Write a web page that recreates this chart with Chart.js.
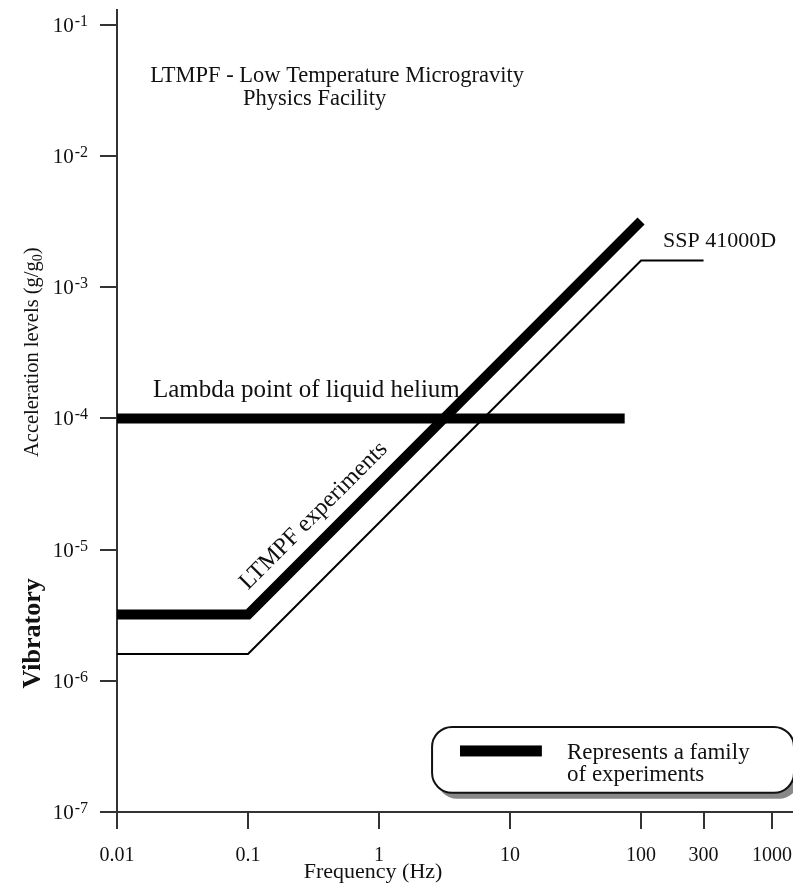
<!DOCTYPE html>
<html>
<head>
<meta charset="utf-8">
<script src="https://cdn.jsdelivr.net/npm/chart.js@4.4.0/dist/chart.umd.min.js"></script>
<style>
  html, body { margin: 0; padding: 0; background: #fff; }
  #wrap { width: 793px; height: 884px; }
</style>
</head>
<body>
<div id="wrap"><canvas id="accel-chart"></canvas></div>
<script>
// Frequency (Hz) vs acceleration level (g/g0)
var ltmpfFreq = [0.01, 0.1, 100];
var ltmpfAccel = [3.2e-6, 3.2e-6, 3.2e-3];

var sspFreq = [0.01, 0.1, 100, 300];
var sspAccel = [1.6e-6, 1.6e-6, 1.6e-3, 1.6e-3];

var lambdaFreq = [0.01, 75];
var lambdaAccel = [1e-4, 1e-4];

var xTicks = [0.01, 0.1, 1, 10, 100, 300, 1000];
var xTickLabels = ['0.01', '0.1', '1', '10', '100', '300', '1000'];
var yTicks = [1e-7, 1e-6, 1e-5, 1e-4, 1e-3, 1e-2, 1e-1];
var yTickExps = ['-7', '-6', '-5', '-4', '-3', '-2', '-1'];

var serif = '"Liberation Serif", serif';
var axisColor = '#333';
var inkColor = '#111';

function toPoints(xs, ys) {
  return xs.map(function (x, i) { return { x: x, y: ys[i] }; });
}

function roundRect(ctx, x, y, w, h, r) {
  ctx.beginPath();
  ctx.moveTo(x + r, y);
  ctx.arcTo(x + w, y, x + w, y + h, r);
  ctx.arcTo(x + w, y + h, x, y + h, r);
  ctx.arcTo(x, y + h, x, y, r);
  ctx.arcTo(x, y, x + w, y, r);
  ctx.closePath();
}

// text, y tick labels with superscripts, legend box
var annotations = {
  id: 'annotations',
  afterDraw: function (chart) {
    var ctx = chart.ctx;
    var xs = chart.scales.x, ys = chart.scales.y;
    var area = chart.chartArea;
    function px(v) { return xs.getPixelForValue(v); }
    function py(v) { return ys.getPixelForValue(v); }

    ctx.save();
    ctx.fillStyle = inkColor;
    ctx.textBaseline = 'alphabetic';

    // y tick labels: 10 with exponent
    yTicks.forEach(function (v, i) {
      var y = py(v);
      var right = area.left - 29;
      ctx.textAlign = 'right';
      ctx.font = '16px ' + serif;
      var w = ctx.measureText(yTickExps[i]).width;
      ctx.fillText(yTickExps[i], right, y + 1);
      ctx.font = '21px ' + serif;
      ctx.fillText('10', right - w - 1, y + 7);
    });

    // axis titles
    ctx.textAlign = 'center';
    ctx.font = '22px ' + serif;
    ctx.fillText('Frequency (Hz)', px(0.9), 878);

    ctx.save();
    ctx.translate(38, py(3.2e-4));
    ctx.rotate(-Math.PI / 2);
    ctx.textAlign = 'left';
    var part1 = 'Acceleration levels (g/g';
    ctx.font = '20.5px ' + serif;
    var w1 = ctx.measureText(part1).width;
    var w3 = ctx.measureText(')').width;
    ctx.font = '14px ' + serif;
    var w2 = ctx.measureText('0').width;
    var x0 = -(w1 + w2 + w3) / 2;
    ctx.font = '20.5px ' + serif;
    ctx.fillText(part1, x0, 0);
    ctx.fillText(')', x0 + w1 + w2, 0);
    ctx.font = '14px ' + serif;
    ctx.fillText('0', x0 + w1, 4);
    ctx.restore();

    ctx.save();
    ctx.translate(40, py(2.3e-6));
    ctx.rotate(-Math.PI / 2);
    ctx.textAlign = 'center';
    ctx.font = 'bold 26px ' + serif;
    ctx.fillText('Vibratory', 0, 0);
    ctx.restore();

    // labels inside the plot
    ctx.textAlign = 'left';
    ctx.font = '22.5px ' + serif;
    ctx.fillText('LTMPF - Low Temperature Microgravity', px(0.0179), py(0.0367));
    ctx.fillText('Physics Facility', px(0.0916), py(0.0245));
    ctx.font = '22px ' + serif;
    ctx.fillText('SSP 41000D', px(147), py(2.03e-3));
    ctx.font = '25px ' + serif;
    ctx.fillText('Lambda point of liquid helium', px(0.0188), py(1.46e-4));

    // label along the LTMPF line
    var p1 = { x: px(ltmpfFreq[1]), y: py(ltmpfAccel[1]) };
    var p2 = { x: px(ltmpfFreq[2]), y: py(ltmpfAccel[2]) };
    var a = Math.atan2(p2.y - p1.y, p2.x - p1.x);
    var along = 17, off = 17;
    var sx = p1.x + Math.cos(a) * along + Math.sin(a) * off;
    var sy = p1.y + Math.sin(a) * along - Math.cos(a) * off;
    ctx.save();
    ctx.translate(sx, sy);
    ctx.rotate(a);
    ctx.font = '24px ' + serif;
    ctx.fillText('LTMPF experiments', 0, 0);
    ctx.restore();

    // legend box
    var bx = px(2.54), by = py(4.45e-7);
    var bw = area.right + 1 - bx, bh = py(1.4e-7) - by;
    ctx.fillStyle = '#888';
    roundRect(ctx, bx + 5, by + 6, bw, bh, 20);
    ctx.fill();
    ctx.fillStyle = '#fff';
    roundRect(ctx, bx, by, bw, bh, 20);
    ctx.fill();
    ctx.strokeStyle = '#111';
    ctx.lineWidth = 2;
    ctx.stroke();

    ctx.fillStyle = '#000';
    ctx.fillRect(px(4.15), py(2.92e-7) - 5.5, px(17.5) - px(4.15), 11);

    ctx.fillStyle = inkColor;
    ctx.font = '23px ' + serif;
    ctx.fillText('Represents a family', px(27.2), py(2.54e-7));
    ctx.fillText('of experiments', px(27.2), py(1.72e-7));

    ctx.restore();
  }
};

var canvas = document.getElementById('accel-chart').getContext('2d');
var chart = new Chart(canvas, {
  type: 'scatter',
  data: {
    datasets: [{
      label: 'LTMPF experiments',
      data: toPoints(ltmpfFreq, ltmpfAccel),
      showLine: true,
      borderColor: '#000',
      borderWidth: 10,
      borderCapStyle: 'butt',
      borderJoinStyle: 'miter',
      pointRadius: 0
    }, {
      label: 'SSP 41000D',
      data: toPoints(sspFreq, sspAccel),
      showLine: true,
      borderColor: '#000',
      borderWidth: 2,
      borderJoinStyle: 'miter',
      pointRadius: 0
    }, {
      label: 'Lambda point of liquid helium',
      data: toPoints(lambdaFreq, lambdaAccel),
      showLine: true,
      borderColor: '#000',
      borderWidth: 10,
      borderCapStyle: 'butt',
      pointRadius: 0
    }]
  },
  options: {
    responsive: true,
    maintainAspectRatio: false,
    animation: false,
    layout: { padding: { top: 10, right: 0, bottom: 0, left: 0 } },
    plugins: {
      legend: { display: false },
      tooltip: { enabled: false }
    },
    scales: {
      x: {
        type: 'logarithmic',
        min: 0.01,
        max: 1445,
        afterBuildTicks: function (scale) {
          scale.ticks = xTicks.map(function (v) { return { value: v }; });
        },
        afterFit: function (scale) {
          scale.height = 72;
          scale.paddingLeft = 0;
          scale.paddingRight = 0;
        },
        grid: { drawOnChartArea: false, drawTicks: true, tickLength: 17, color: axisColor, lineWidth: 2 },
        border: { color: axisColor, width: 2 },
        ticks: {
          autoSkip: false,
          maxRotation: 0,
          padding: 15,
          color: inkColor,
          font: { family: 'Liberation Serif', size: 20 },
          callback: function (value, index) { return xTickLabels[index]; }
        }
      },
      y: {
        type: 'logarithmic',
        min: 1e-7,
        max: 0.13,
        afterBuildTicks: function (scale) {
          scale.ticks = yTicks.map(function (v) { return { value: v }; });
        },
        afterFit: function (scale) {
          scale.width = 117;
          scale.paddingTop = 0;
          scale.paddingBottom = 0;
        },
        grid: { drawOnChartArea: false, drawTicks: true, tickLength: 17, color: axisColor, lineWidth: 2 },
        border: { color: axisColor, width: 2 },
        ticks: { display: false }
      }
    }
  },
  plugins: [annotations]
});
</script>
</body>
</html>
